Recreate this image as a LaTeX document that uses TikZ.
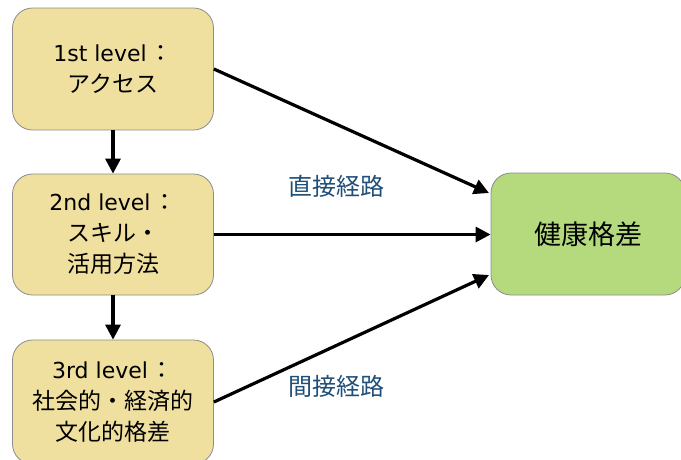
\documentclass[tikz,border=0pt]{standalone}
\usepackage{fontspec}
\setmainfont{Noto Sans CJK JP}
\newfontfamily\latinfont{DejaVu Sans}
\usetikzlibrary{arrows.meta}
\definecolor{boxyellow}{RGB}{240,224,160}
\definecolor{boxgreen}{RGB}{180,218,125}
\definecolor{labelblue}{RGB}{31,78,121}
\tikzset{
  levelbox/.style={draw=black!45, line width=0.8pt, fill=boxyellow, rounded corners=20pt,
    minimum width=201pt, inner sep=0pt, align=center,
    font=\fontsize{23}{31}\selectfont},
  goalbox/.style={draw=black!45, line width=0.8pt, fill=boxgreen, rounded corners=20pt,
    minimum width=194pt, minimum height=122pt, inner sep=0pt,
    font=\fontsize{27}{30}\selectfont},
  conn/.style={line width=3.2pt, -{Triangle[length=15pt,width=15pt]}},
  pathlabel/.style={text=labelblue, font=\fontsize{24}{26}\selectfont}
}
\newcommand{\lvl}[1]{{\latinfont\fontsize{22}{31}\selectfont #1}\hspace{3pt}：}
\begin{document}
\begin{tikzpicture}[x=1pt,y=-1pt]
\clip (0,0) rectangle (681,459);
\fill[white] (0,0) rectangle (681,459);
\node[levelbox, minimum height=122pt] (l1) at (113,69) {\lvl{1st level}\\アクセス};
\node[levelbox, minimum height=121pt] (l2) at (113,234.5) {\lvl{2nd level}\\スキル・\\活用方法};
\node[levelbox, minimum height=124pt] (l3) at (113,402) {\lvl{3rd level}\\社会的・経済的\\文化的格差};
\node[goalbox] (g) at (588,234) {健康格差};
\coordinate (g1) at (489,193);
\coordinate (g3) at (489,275);
\draw[conn] (l1.south) -- (l2.north);
\draw[conn] (l2.south) -- (l3.north);
\draw[conn] (l1.east) -- (g1);
\draw[conn] (l2.east) -- (l2.east -| g.west);
\draw[conn] (l3.east) -- (g3);
\node[pathlabel] (direct) at (336,186) {直接経路};
\node[pathlabel] (indirect) at (336,386) {間接経路};
\end{tikzpicture}
\end{document}
